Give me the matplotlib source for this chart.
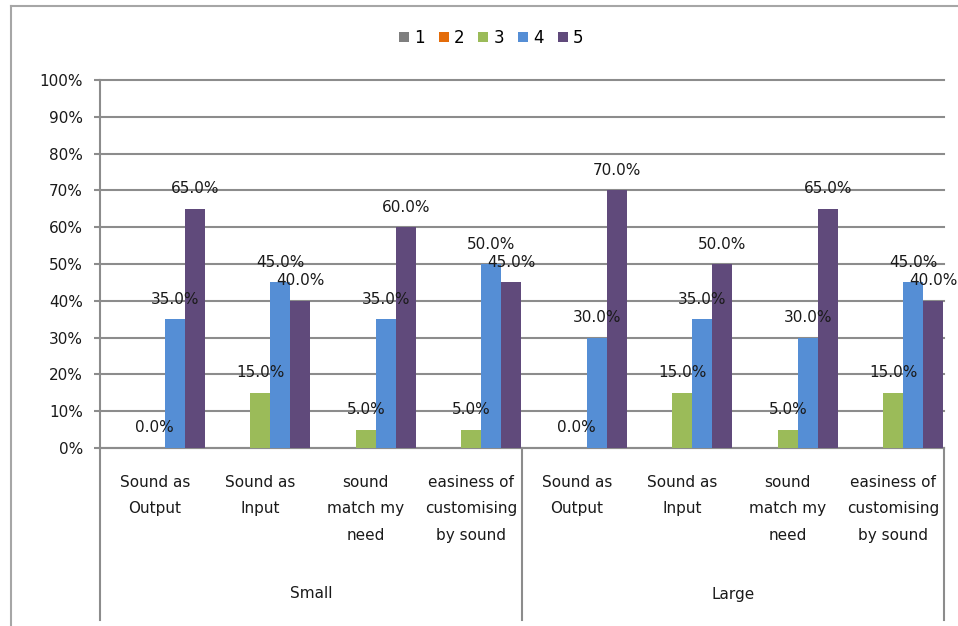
import numpy as np
import matplotlib
matplotlib.use("Agg")
import matplotlib.pyplot as plt
from matplotlib.lines import Line2D
from matplotlib.patches import Patch
from matplotlib.transforms import offset_copy

plt.rcParams['font.family'] = ['DejaVu Sans']

# Survey responses (share of respondents per rating), by screen size group
groups = ["Small", "Large"]
questions = ["Sound as\nOutput", "Sound as\nInput", "sound\nmatch my\nneed",
             "easiness of\ncustomising\nby sound"]
series_names = ["1", "2", "3", "4", "5"]

rating_1 = [None] * 8
rating_2 = [None] * 8
rating_3 = [0.0, 15.0, 5.0, 5.0, 0.0, 15.0, 5.0, 15.0]
rating_4 = [35.0, 45.0, 35.0, 50.0, 30.0, 35.0, 30.0, 45.0]
rating_5 = [65.0, 40.0, 60.0, 45.0, 70.0, 50.0, 65.0, 40.0]

series_values = [rating_1, rating_2, rating_3, rating_4, rating_5]
colors = ["#7f7f7f", "#e46c0a", "#9bbb59", "#558ed5", "#604a7b"]

W, H = 958, 626
fig = plt.figure(figsize=(W / 100, H / 100), dpi=100)
ax = fig.add_axes([100 / W, (H - 448) / H, (944 - 100) / W, (448 - 80) / H])

n_cat = len(groups) * len(questions)
x = np.arange(n_cat)
bw = 0.19
grid_c = "#8c8c8c"
txt_c = "#1a1a1a"
fs = 11

for i, (vals, c, name) in enumerate(zip(series_values, colors, series_names)):
    h = np.array([np.nan if v is None else v for v in vals], dtype=float)
    xs = x + (i - 2) * bw + 0.02
    ax.bar(xs, np.nan_to_num(h), width=bw, color=c, edgecolor="none", zorder=3)
    for xi, v in zip(xs, vals):
        if v is None:
            continue
        ax.annotate(f"{v:.1f}%", (xi, v), xytext=(0, 20), textcoords="offset pixels",
                    ha="center", va="center", fontsize=fs, color=txt_c, zorder=5)

ax.set_xlim(-0.5, n_cat - 0.5)
ax.set_ylim(0, 100)
ax.set_yticks(np.arange(0, 101, 10))
ax.set_yticklabels([f"{t}%" for t in range(0, 101, 10)], fontsize=fs, color=txt_c)
ax.yaxis.grid(True, color=grid_c, linewidth=1.5, zorder=0)
for gl in ax.get_ygridlines():
    gl.set_clip_on(False)
ax.tick_params(axis="y", length=4.3, width=1.5, color=grid_c, pad=8)
ax.set_xticks([])
for s in ["top", "right"]:
    ax.spines[s].set_visible(False)
for s in ["left", "bottom"]:
    ax.spines[s].set_color(grid_c)
    ax.spines[s].set_linewidth(1.5)

# Category labels and group labels below the axis
lbl_tr = offset_copy(ax.transData, fig=fig, x=0, y=-27, units="dots")
for j in range(n_cat):
    ax.text(j + 0.02, 0, questions[j % len(questions)], transform=lbl_tr,
            ha="center", va="top", fontsize=fs, color=txt_c, linespacing=1.95)
for g_i, g in enumerate(groups):
    xc = g_i * len(questions) + (len(questions) - 1) / 2
    fig.text(ax.transData.transform((xc, 0))[0] / W, (H - 594) / H, g,
             ha="center", va="center", fontsize=fs, color=txt_c)
for xb in [-0.5, 3.5, 7.5]:
    xf = ax.transData.transform((xb, 0))[0] / W
    fig.add_artist(Line2D([xf, xf], [(H - 448) / H, (H - 620) / H],
                          color=grid_c, linewidth=1.5))

# Chart frame
fig.add_artist(Line2D([10.5 / W, 10.5 / W], [0, (H - 6) / H], color="#a6a6a6", linewidth=1.5))
fig.add_artist(Line2D([10.5 / W, 1], [(H - 6) / H, (H - 6) / H], color="#a6a6a6", linewidth=1.5))

handles = [Patch(facecolor=c, edgecolor="none") for c in colors]
fig.legend(handles, series_names, loc="center", bbox_to_anchor=(491 / W, (H - 38) / H),
           ncol=5, frameon=False, fontsize=12, handlelength=0.6, handleheight=0.6,
           handletextpad=0.3, columnspacing=0.85)

fig.savefig("out.png", dpi=100)
